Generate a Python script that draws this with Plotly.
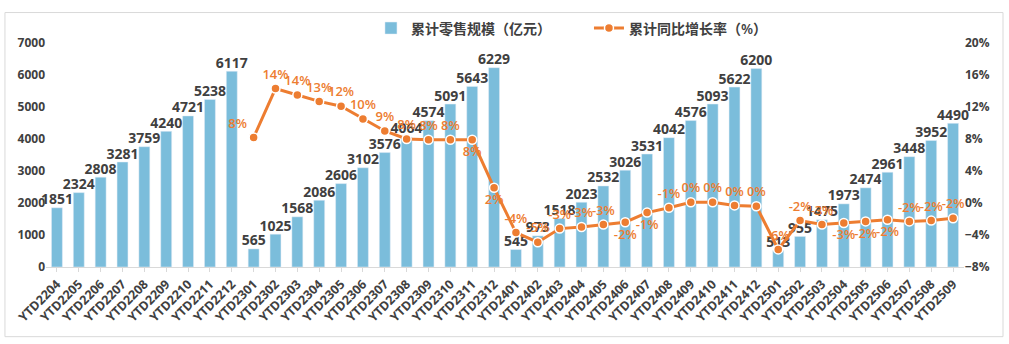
import plotly.graph_objects as go

categories = ["YTD2204","YTD2205","YTD2206","YTD2207","YTD2208","YTD2209","YTD2210","YTD2211","YTD2212",
              "YTD2301","YTD2302","YTD2303","YTD2304","YTD2305","YTD2306","YTD2307","YTD2308","YTD2309","YTD2310","YTD2311","YTD2312",
              "YTD2401","YTD2402","YTD2403","YTD2404","YTD2405","YTD2406","YTD2407","YTD2408","YTD2409","YTD2410","YTD2411","YTD2412",
              "YTD2501","YTD2502","YTD2503","YTD2504","YTD2505","YTD2506","YTD2507","YTD2508","YTD2509"]

sales = [1851, 2324, 2808, 3281, 3759, 4240, 4721, 5238, 6117,
         565, 1025, 1568, 2086, 2606, 3102, 3576, 4064, 4574, 5091, 5643, 6229,
         545, 973, 1518, 2023, 2532, 3026, 3531, 4042, 4576, 5093, 5622, 6200,
         513, 955, 1475, 1973, 2474, 2961, 3448, 3952, 4490]

growth = [None]*9 + [8.2, 14.3, 13.5, 12.7, 12.1, 10.5, 9.0, 8.0, 7.9, 7.9, 7.9, 1.9,
                     -3.7, -4.9, -3.2, -3.0, -2.7, -2.4, -1.2, -0.6, 0.1, 0.1, -0.3, -0.4,
                     -5.8, -2.2, -2.7, -2.5, -2.3, -2.1, -2.3, -2.2, -1.9]

growth_labels = [""]*9 + ["8%","14%","14%","13%","12%","10%","9%","8%","8%","8%","8%","2%",
                          "-4%","-5%","-3%","-3%","-3%","-2%","-1%","-1%","0%","0%","0%","0%",
                          "-6%","-2%","-3%","-3%","-2%","-2%","-2%","-2%","-2%"]

label_pos = ["top center"]*9 + ["top left","top center","top center","top center","top center","top center",
                                "top center","top center","top center","top center","bottom center","bottom center",
                                "top center","top center","top center","top center","top center","bottom center",
                                "bottom center","top center","top center","top center","top center","top center",
                                "top center","top center","top center","bottom center","bottom center","bottom center",
                                "top center","top center","top center"]

FONT = "Open Sans, Noto Sans CJK SC, sans-serif"
DARK = "#404040"
ORANGE = "#ED7D31"
BLUE = "#7BBDDB"

fig = go.Figure()
fig.add_trace(go.Bar(
    x=categories, y=sales, name="累计零售规模（亿元）",
    marker=dict(color=BLUE), width=0.5, yaxis="y",
))
fig.add_trace(go.Scatter(
    x=categories, y=sales, mode="text", showlegend=False,
    text=[str(v) for v in sales], textposition="top center",
    textfont=dict(family=FONT, size=14, color=DARK, weight=700),
    cliponaxis=False, yaxis="y", hoverinfo="skip",
))
fig.add_trace(go.Scatter(
    x=categories, y=growth, name="累计同比增长率（%）",
    mode="lines+markers+text", connectgaps=False,
    line=dict(color=ORANGE, width=3),
    marker=dict(color=ORANGE, size=9, line=dict(color="white", width=1.5)),
    text=growth_labels, textposition=label_pos,
    textfont=dict(family=FONT, size=13, color=ORANGE, weight=600),
    cliponaxis=False, yaxis="y2",
))

fig.update_layout(
    width=1009, height=344,
    margin=dict(l=46, r=45, t=39, b=77),
    paper_bgcolor="white", plot_bgcolor="white",
    font=dict(family=FONT, color=DARK),
    showlegend=True,
    legend=dict(orientation="h", x=0.354, xanchor="left", y=1.065, yanchor="middle",
                font=dict(family=FONT, size=14, color=DARK, weight=600),
                bgcolor="rgba(0,0,0,0)", itemwidth=30,
                entrywidth=173, entrywidthmode="pixels"),
    xaxis=dict(type="category", tickangle=-45, range=[-0.5, 41.5],
               tickfont=dict(family=FONT, size=12.5, color=DARK, weight=700),
               showline=True, linecolor="#D9D9D9", linewidth=1,
               ticks="outside", tickcolor="#D9D9D9", ticklen=4, showgrid=False),
    yaxis=dict(range=[0, 7000], dtick=1000, showgrid=False, zeroline=False,
               tickfont=dict(family=FONT, size=12, color=DARK, weight=700), ticks=""),
    yaxis2=dict(range=[-8, 20], dtick=4, overlaying="y", side="right", showgrid=False,
                zeroline=False, ticksuffix="%",
                tickfont=dict(family=FONT, size=12, color=DARK, weight=700)),
    shapes=[dict(type="rect", xref="paper", yref="paper",
                 x0=-0.0447, x1=1.0425, y0=-0.311, y1=1.136,
                 line=dict(color="#D9D9D9", width=1), fillcolor="rgba(0,0,0,0)", layer="below")],
)

fig.write_html("out.html")
